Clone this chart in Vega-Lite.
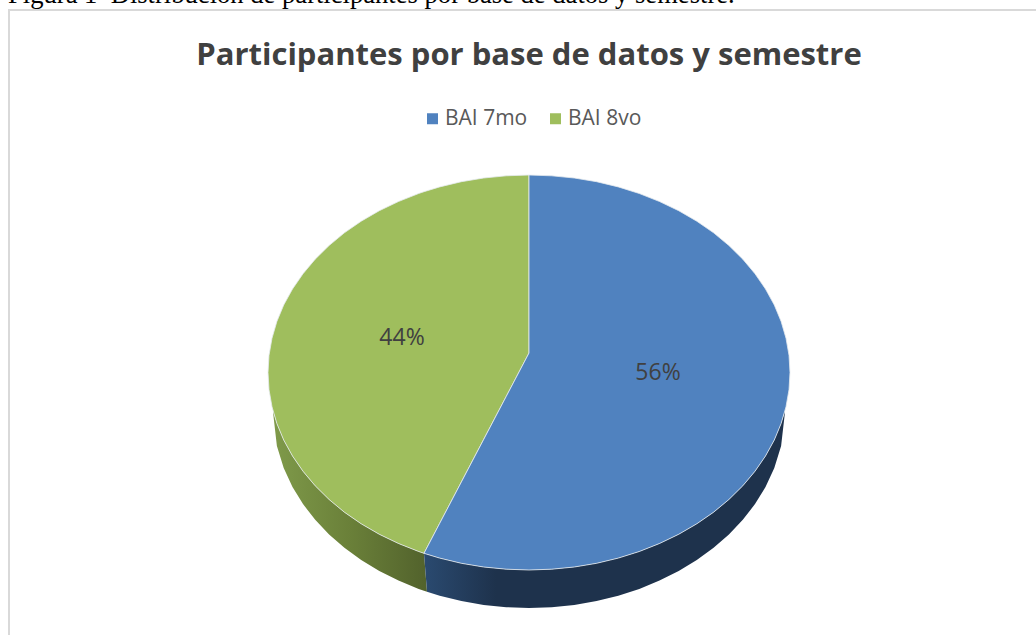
{"$schema":"https://vega.github.io/schema/vega-lite/v6.json","width":1036,"height":635,"padding":0,"autosize":{"type":"none"},"background":"#ffffff","config":{"view":{"stroke":null}},
"datasets":{
"frame":[{"i":1,"x":9,"y":635},{"i":2,"x":9,"y":10},{"i":3,"x":1036,"y":10}],
"caption":[{"x":8,"y":3,"t":"Figura 1 \u00a0Distribución de participantes por base de datos y semestre."}],
"title":[{"x":529,"y":65,"t":"Participantes por base de datos y semestre"}],
"labels":[{"x":402,"y":338,"t":"44%"},{"x":658,"y":373,"t":"56%"}],
"sideGreen":[{"i":1,"x":273,"y":411,"y2":412},{"i":2,"x":276.9,"y":423.6,"y2":446.1},{"i":3,"x":283.7,"y":440,"y2":468.1},{"i":4,"x":292.5,"y":456,"y2":487},{"i":5,"x":303,"y":471.25,"y2":504.1},{"i":6,"x":315.2,"y":485.8,"y2":519.8},{"i":7,"x":329.1,"y":499.5,"y2":534.4},{"i":8,"x":344.4,"y":512.2,"y2":547.8},{"i":9,"x":361.2,"y":523.8,"y2":560},{"i":10,"x":379.3,"y":534.3,"y2":571},{"i":11,"x":398.5,"y":543.5,"y2":580.6},{"i":12,"x":418.7,"y":551.5,"y2":588.9},{"i":13,"x":424,"y":553.3,"y2":590.8},{"i":14,"x":427,"y":591.8,"y2":591.8}],
"sideBlue":[{"i":1,"x":424,"y":553.3,"y2":553.3},{"i":2,"x":427,"y":554.3,"y2":591.8},{"i":3,"x":439.7,"y":558.1,"y2":595.7},{"i":4,"x":461.4,"y":563.3,"y2":601},{"i":5,"x":483.7,"y":567,"y2":604.9},{"i":6,"x":506.3,"y":569.2,"y2":607.2},{"i":7,"x":529,"y":570,"y2":608},{"i":8,"x":551.7,"y":569.2,"y2":607.2},{"i":9,"x":574.3,"y":567,"y2":604.9},{"i":10,"x":596.6,"y":563.3,"y2":601},{"i":11,"x":618.3,"y":558.1,"y2":595.7},{"i":12,"x":639.3,"y":551.5,"y2":588.9},{"i":13,"x":659.5,"y":543.5,"y2":580.6},{"i":14,"x":678.7,"y":534.3,"y2":571},{"i":15,"x":696.8,"y":523.8,"y2":560},{"i":16,"x":713.6,"y":512.2,"y2":547.8},{"i":17,"x":728.9,"y":499.5,"y2":534.4},{"i":18,"x":742.8,"y":485.8,"y2":519.8},{"i":19,"x":755,"y":471.25,"y2":504.1},{"i":20,"x":765.5,"y":456,"y2":487},{"i":21,"x":774.3,"y":440,"y2":468.1},{"i":22,"x":781.1,"y":423.6,"y2":446.1},{"i":23,"x":785,"y":411,"y2":412}],
"faces":[
{"s":"BAI 8vo","i":1,"x":268,"y":372.5,"y2":372.5},{"s":"BAI 8vo","i":2,"x":269,"y":355.3,"y2":389.7},{"s":"BAI 8vo","i":3,"x":272,"y":338.2,"y2":406.8},{"s":"BAI 8vo","i":4,"x":276.9,"y":321.4,"y2":423.6},{"s":"BAI 8vo","i":5,"x":283.7,"y":305,"y2":440},{"s":"BAI 8vo","i":6,"x":292.5,"y":289,"y2":456},{"s":"BAI 8vo","i":7,"x":303,"y":273.75,"y2":471.25},{"s":"BAI 8vo","i":8,"x":315.2,"y":259.2,"y2":485.8},{"s":"BAI 8vo","i":9,"x":329.1,"y":245.5,"y2":499.5},{"s":"BAI 8vo","i":10,"x":344.4,"y":232.8,"y2":512.2},{"s":"BAI 8vo","i":11,"x":361.2,"y":221.2,"y2":523.8},{"s":"BAI 8vo","i":12,"x":379.3,"y":210.7,"y2":534.3},{"s":"BAI 8vo","i":13,"x":398.5,"y":201.5,"y2":543.5},{"s":"BAI 8vo","i":14,"x":418.7,"y":193.5,"y2":551.5},{"s":"BAI 8vo","i":15,"x":424,"y":191.7,"y2":553.3},{"s":"BAI 8vo","i":16,"x":439.7,"y":186.9,"y2":523.35},{"s":"BAI 8vo","i":17,"x":461.4,"y":181.7,"y2":481.95},{"s":"BAI 8vo","i":18,"x":483.7,"y":178,"y2":439.4},{"s":"BAI 8vo","i":19,"x":506.3,"y":175.8,"y2":396.3},{"s":"BAI 8vo","i":20,"x":529,"y":175,"y2":353},
{"s":"BAI 7mo","i":1,"x":424,"y":553.3,"y2":553.3},{"s":"BAI 7mo","i":2,"x":439.7,"y":523.35,"y2":558.1},{"s":"BAI 7mo","i":3,"x":461.4,"y":481.95,"y2":563.3},{"s":"BAI 7mo","i":4,"x":483.7,"y":439.4,"y2":567},{"s":"BAI 7mo","i":5,"x":506.3,"y":396.3,"y2":569.2},{"s":"BAI 7mo","i":6,"x":529,"y":353,"y2":570},{"s":"BAI 7mo","i":7,"x":529,"y":175,"y2":570},{"s":"BAI 7mo","i":8,"x":551.7,"y":175.8,"y2":569.2},{"s":"BAI 7mo","i":9,"x":574.3,"y":178,"y2":567},{"s":"BAI 7mo","i":10,"x":596.6,"y":181.7,"y2":563.3},{"s":"BAI 7mo","i":11,"x":618.3,"y":186.9,"y2":558.1},{"s":"BAI 7mo","i":12,"x":639.3,"y":193.5,"y2":551.5},{"s":"BAI 7mo","i":13,"x":659.5,"y":201.5,"y2":543.5},{"s":"BAI 7mo","i":14,"x":678.7,"y":210.7,"y2":534.3},{"s":"BAI 7mo","i":15,"x":696.8,"y":221.2,"y2":523.8},{"s":"BAI 7mo","i":16,"x":713.6,"y":232.8,"y2":512.2},{"s":"BAI 7mo","i":17,"x":728.9,"y":245.5,"y2":499.5},{"s":"BAI 7mo","i":18,"x":742.8,"y":259.2,"y2":485.8},{"s":"BAI 7mo","i":19,"x":755,"y":273.75,"y2":471.25},{"s":"BAI 7mo","i":20,"x":765.5,"y":289,"y2":456},{"s":"BAI 7mo","i":21,"x":774.3,"y":305,"y2":440},{"s":"BAI 7mo","i":22,"x":781.1,"y":321.4,"y2":423.6},{"s":"BAI 7mo","i":23,"x":786,"y":338.2,"y2":406.8},{"s":"BAI 7mo","i":24,"x":789,"y":355.3,"y2":389.7},{"s":"BAI 7mo","i":25,"x":790,"y":372.5,"y2":372.5}]
},
"encoding":{
"x":{"field":"x","type":"quantitative","axis":null,"scale":{"domain":[0,1036],"nice":false,"zero":false}},
"y":{"field":"y","type":"quantitative","axis":null,"scale":{"domain":[635,0],"nice":false,"zero":false}}},
"layer":[
{"data":{"name":"caption"},"mark":{"type":"text","align":"left","baseline":"alphabetic","font":"Liberation Serif","fontSize":26.6,"color":"#000000"},"encoding":{"text":{"field":"t"}}},
{"data":{"name":"frame"},"mark":{"type":"line","stroke":"#d9d9d9","strokeWidth":2},"encoding":{"order":{"field":"i"}}},
{"data":{"name":"title"},"mark":{"type":"text","align":"center","baseline":"alphabetic","font":"Open Sans","fontWeight":"bold","fontSize":31,"color":"#404040"},"encoding":{"text":{"field":"t"}}},
{"data":{"name":"sideGreen"},"mark":{"type":"area","orient":"vertical","fill":{"gradient":"linear","x1":0,"y1":0,"x2":1,"y2":0,"stops":[{"offset":0,"color":"#7f9a4a"},{"offset":0.5,"color":"#6a8039"},{"offset":1,"color":"#52622c"}]}},"encoding":{"y2":{"field":"y2"}}},
{"data":{"name":"sideBlue"},"mark":{"type":"area","orient":"vertical","fill":{"gradient":"linear","x1":0,"y1":0,"x2":1,"y2":0,"stops":[{"offset":0,"color":"#2a4a70"},{"offset":0.2,"color":"#1e324c"},{"offset":1,"color":"#1e324c"}]}},"encoding":{"y2":{"field":"y2"}}},
{"data":{"name":"faces"},"mark":{"type":"area","orient":"vertical","opacity":1,"stroke":"#e6ebef","strokeWidth":0.8},"encoding":{"y2":{"field":"y2"},"color":{"field":"s","type":"nominal","scale":{"domain":["BAI 7mo","BAI 8vo"],"range":["#5082bf","#9fbe5d"]},"legend":{"title":null,"orient":"none","legendX":422,"legendY":108,"direction":"horizontal","columns":2,"symbolType":"square","symbolSize":121,"symbolStrokeWidth":0,"labelFont":"Open Sans","labelFontSize":21,"labelColor":"#595959","labelOffset":2,"columnPadding":17,"padding":0}}}},
{"data":{"name":"labels"},"mark":{"type":"text","align":"center","baseline":"middle","font":"Open Sans","fontSize":23,"color":"#404040"},"encoding":{"text":{"field":"t"}}}
]}
